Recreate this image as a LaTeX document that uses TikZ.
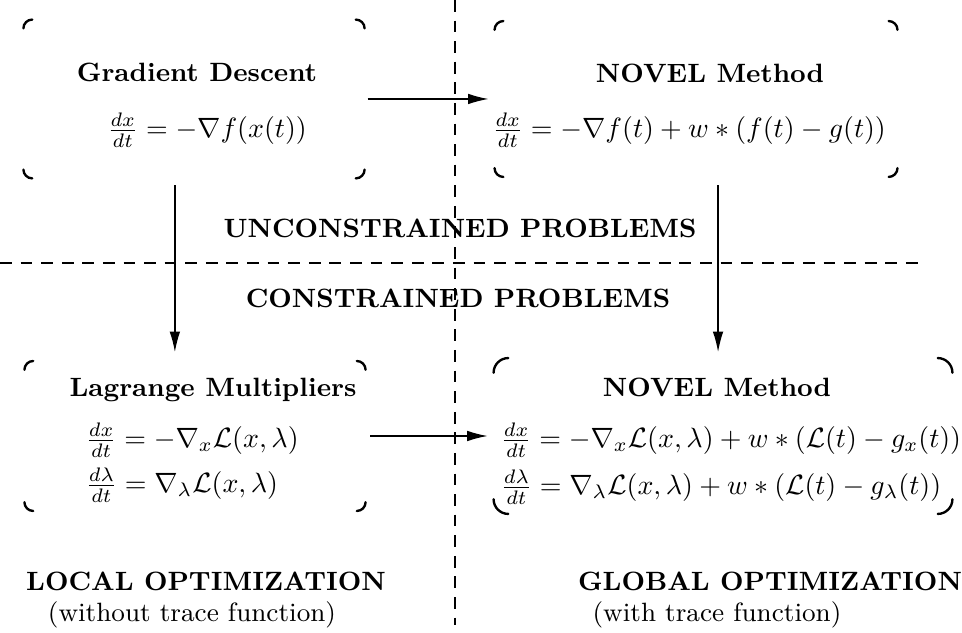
\documentclass[tikz,border=0pt]{standalone}
\usepackage{amsmath,amssymb}
\usetikzlibrary{arrows.meta,positioning,calc}
% the four rounded corner marks of a box node
\newcommand\boxcorners[2][3pt]{%
  \draw[corner] ([yshift=-#1]#2.north west) arc[start angle=180, end angle=90, radius=#1];
  \draw[corner] ([xshift=-#1]#2.north east) arc[start angle=90, end angle=0, radius=#1];
  \draw[corner] ([yshift=#1]#2.south east) arc[start angle=0, end angle=-90, radius=#1];
  \draw[corner] ([xshift=#1]#2.south west) arc[start angle=270, end angle=180, radius=#1];
}
% equations a little smaller than the text
\newcommand\eqtext[1]{\scalebox{0.95}{$#1$}}
\begin{document}
\begin{tikzpicture}[x=0.34pt, y=0.34pt,
  box/.style={inner sep=0pt, outer sep=0pt},
  corner/.style={line width=0.8pt, line cap=round},
  title/.style={font=\fontsize{9}{11}\selectfont\bfseries},
  note/.style={font=\fontsize{9}{11}\selectfont},
  eqn/.style={inner sep=0pt},
  flow/.style={line width=0.5pt, -{Latex[length=7pt, width=3.6pt]}},
  divider/.style={line width=0.4pt, dash pattern=on 4pt off 3pt}]
\useasboundingbox (0,0) rectangle (962,633);
% dividers
\coordinate (vtop) at (455,633);
\coordinate (vbot) at (455,8);
\coordinate (hleft) at (0,370);
\coordinate (hright) at (922,370);
\draw[divider] (vtop) -- (vbot);
\draw[divider] (hleft) -- (hright);
% boxes
\node[box, minimum width=116pt, minimum height=54pt] (gd) at (194,534) {};
\node[box, minimum width=137pt, minimum height=53pt] (nv) at (696,534) {};
\node[box, minimum width=116pt, minimum height=51pt] (lm) at (195,197) {};
\node[box, minimum width=156pt, minimum height=53pt] (nvc) at (723,197) {};
\boxcorners{gd}
\boxcorners{nv}
\boxcorners{lm}
\boxcorners[5pt]{nvc}
% unconstrained
\node[title] (gdt) at (197,561) {Gradient Descent};
\node[eqn] (gdf) at (207,503) {\eqtext{\frac{dx}{dt} = -\nabla f(x(t))}};
\node[title] (nvt) at (710,560) {NOVEL Method};
\node[eqn] (nvf) at (689,503) {\eqtext{\frac{dx}{dt} = -\nabla f(t) + w*(f(t)-g(t))}};
% problem classes
\node[title] (unc) at (460,405) {UNCONSTRAINED PROBLEMS};
\node[title] (con) at (458,335) {CONSTRAINED PROBLEMS};
% constrained
\node[title] (lmt) at (213,243) {Lagrange Multipliers};
\node[eqn, anchor=west] (lmx) at (85,193) {\eqtext{\frac{dx}{dt} = -\nabla_x\mathcal{L}(x,\lambda)}};
\node[eqn, anchor=west] (lml) at (85,148) {\eqtext{\frac{d\lambda}{dt} = \nabla_\lambda\mathcal{L}(x,\lambda)}};
\node[title] (nvct) at (717,246) {NOVEL Method};
\node[eqn, anchor=west] (nvcx) at (500,193) {\eqtext{\frac{dx}{dt} = -\nabla_x\mathcal{L}(x,\lambda) + w*(\mathcal{L}(t)-g_x(t))}};
\node[eqn, anchor=west] (nvcl) at (500,146) {\eqtext{\frac{d\lambda}{dt} = \nabla_\lambda\mathcal{L}(x,\lambda) + w*(\mathcal{L}(t)-g_\lambda(t))}};
% arrows
\draw[flow, shorten <=1pt, shorten >=2pt] (gd.east) -- (nv.west);
\draw[flow, shorten <=1.5pt, shorten >=2pt] (lm.east) -- (nvc.west);
\draw[flow, shorten <=2.4pt, shorten >=3pt] ([xshift=-6.5pt]gd.south) -- ([xshift=-6.5pt]gd.south |- lm.north);
\draw[flow, shorten <=2.8pt, shorten >=2pt] ([xshift=7.5pt]nv.south) -- ([xshift=7.5pt]nv.south |- nvc.north);
% bottom labels
\node[title] (loc) at (206,52) {LOCAL OPTIMIZATION};
\node[note] (locn) at (192,18) {(without trace function)};
\node[title] (glo) at (770,52) {GLOBAL OPTIMIZATION};
\node[note] (glon) at (717,18) {(with trace function)};
\end{tikzpicture}
\end{document}
